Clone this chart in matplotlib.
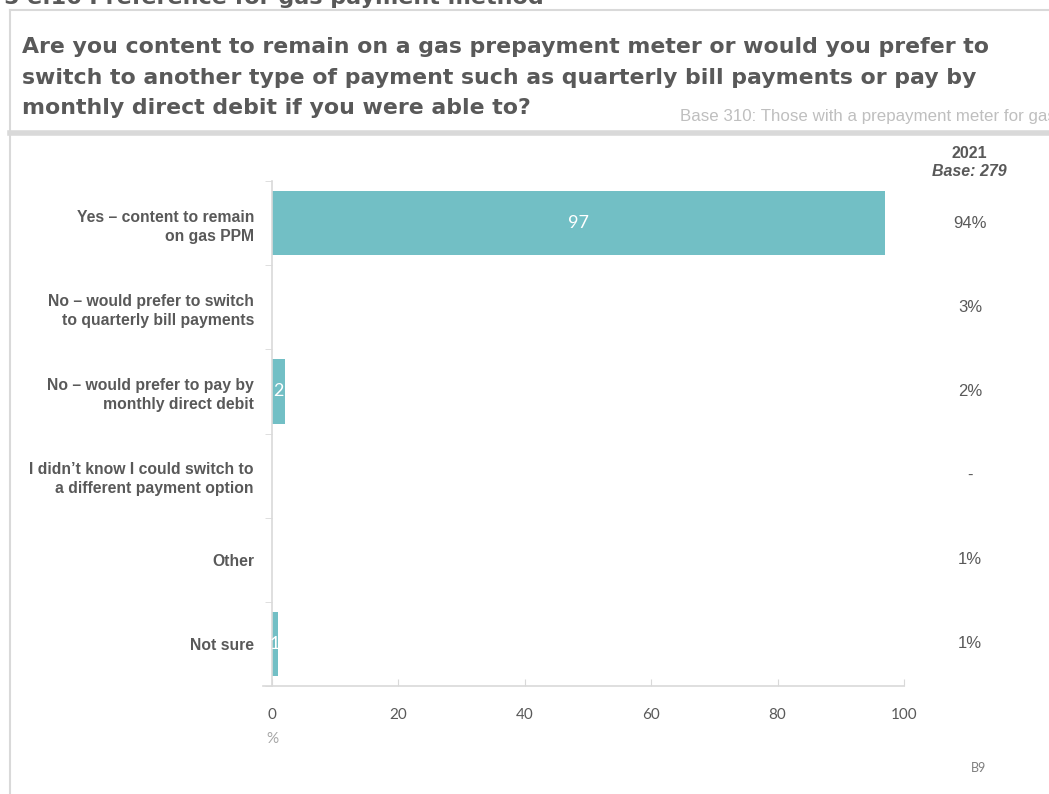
import matplotlib.pyplot as plt
import matplotlib.transforms as mtransforms
from matplotlib.lines import Line2D

# data
categories = [
    "Yes \u2013 content to remain\non gas PPM",
    "No \u2013 would prefer to switch\nto quarterly bill payments",
    "No \u2013 would prefer to pay by\nmonthly direct debit",
    "I didn\u2019t know I could switch to\na different payment option",
    "Other",
    "Not sure",
]
values_2023 = [97, 0, 2, 0, 0, 1]
values_2021 = ["94%", "3%", "2%", "-", "1%", "1%"]
x_ticks = [0, 20, 40, 60, 80, 100]

bar_color = "#72bfc5"
dark = "#595959"
light = "#d9d9d9"

fig = plt.figure(figsize=(10.49, 7.94), dpi=100)
W, H = 1049, 794

ax = fig.add_axes([272 / W, 1 - 686 / H, 632 / W, 505 / H])
ypos = list(range(len(categories)))
bars = ax.barh(ypos, values_2023, height=0.77, color=bar_color)
for y, v in zip(ypos, values_2023):
    if v > 0:
        ax.text(v / 2, y, str(v), ha="center", va="center", color="white",
                fontsize=13, family="Lato")

ax.set_xlim(0, 100)
ax.set_ylim(len(categories) - 0.5, -0.5)
ax.set_xticks(x_ticks)
ax.set_xticklabels([str(t) for t in x_ticks], family="Lato", fontsize=11, color=dark)
ax.tick_params(axis="x", direction="in", length=5, color=light, pad=16)
ax.set_yticks(ypos)
ax.set_yticklabels(categories, family="Liberation Sans", fontweight="bold",
                   fontsize=11.3, color=dark, linespacing=1.33)
ax.tick_params(axis="y", which="major", length=0, pad=13)
ax.set_yticks([i - 0.5 for i in range(len(categories) + 1)], minor=True)
ax.tick_params(axis="y", which="minor", direction="out", length=5, color=light)
for s in ["top", "right"]:
    ax.spines[s].set_visible(False)
for s in ["left", "bottom"]:
    ax.spines[s].set_color(light)
    ax.spines[s].set_linewidth(1.2)
ax.spines["bottom"].set_bounds(-1.4, 100)
ax.text(0, -0.105, "%", transform=ax.transAxes, ha="center", va="center",
        family="Lato", fontsize=11, color="#a6a6a6")

# 2021 column on the right
tr = mtransforms.blended_transform_factory(fig.transFigure, ax.transData)
for y, lab in zip(ypos, values_2021):
    ax.text(970 / W, y, lab, transform=tr, ha="center", va="center",
            family="Liberation Sans", fontsize=12, color=dark)
fig.text(969 / W, 1 - 154 / H, "2021", ha="center", va="center",
         family="Liberation Sans", fontweight="bold", fontsize=11.5, color=dark)
fig.text(969 / W, 1 - 172 / H, "Base: 279", ha="center", va="center",
         family="Liberation Sans", fontweight="bold", fontstyle="italic",
         fontsize=11.5, color=dark)
fig.text(978 / W, 1 - 768 / H, "B9", ha="center", va="center",
         family="Lato", fontsize=9, color="#7f7f7f")

# header text (first line is cut off at the top edge, as in the reference)
fig.text(4 / W, 1 - 4 / H, "5 e.16 Preference for gas payment method", ha="left",
         va="baseline", fontsize=16, fontweight="bold", color=dark)
title_lines = [
    "Are you content to remain on a gas prepayment meter or would you prefer to",
    "switch to another type of payment such as quarterly bill payments or pay by",
    "monthly direct debit if you were able to?",
]
for i, line in enumerate(title_lines):
    fig.text(22 / W, 1 - (47 + 30.5 * i) / H, line, ha="left", va="center",
             fontsize=15.8, fontweight="bold", color=dark)
fig.text(680 / W, 1 - 116 / H, "Base 310: Those with a prepayment meter for gas",
         ha="left", va="center", family="Liberation Sans", fontsize=12.2,
         color="#bfbfbf")

# frame lines
fig.add_artist(Line2D([10 / W, 10 / W], [0, 1 - 10 / H], color=light, lw=1.5))
fig.add_artist(Line2D([10 / W, 1], [1 - 10 / H, 1 - 10 / H], color=light, lw=1.5))
fig.add_artist(Line2D([10 / W, 1], [1 - 133 / H, 1 - 133 / H], color=light, lw=4))

fig.savefig("out.png", dpi=100)
